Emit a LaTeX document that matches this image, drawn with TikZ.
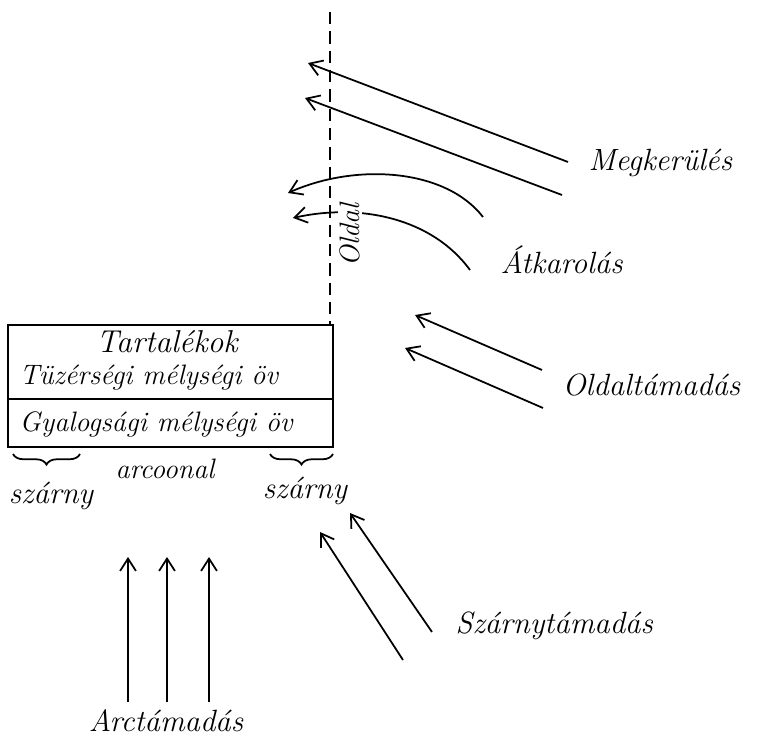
\documentclass[tikz,border=0pt]{standalone}
\usepackage{fontspec}
\usepackage{tikz}
\usetikzlibrary{arrows.meta,decorations.pathreplacing}

\begin{document}
\begin{tikzpicture}[x=0.02cm,y=-0.02cm,line width=1pt,
    >={Straight Barb[length=7pt,width=9pt,line width=1pt]},
    hand/.style={font=\fontsize{17.5}{20}\selectfont\itshape,inner sep=1pt},
    boxtext/.style={font=\fontsize{16}{18}\selectfont\itshape,inner sep=1pt},
    wing/.style={decorate,decoration={brace,mirror,amplitude=6pt}}]
  \useasboundingbox (0,0) rectangle (768,746);
  % front line and side line
  \draw (8,325) rectangle (333,447);
  \draw (8,399) -- (333,399);
  \coordinate (sideTop) at (330,12);
  \coordinate (sideFoot) at (330,325);
  \draw[dash pattern=on 7pt off 4pt] (sideTop) -- (sideFoot);
  \node[boxtext,font=\fontsize{18}{20}\selectfont\itshape] (tartalek) at (167,342) {Tartalékok};
  \node[boxtext,anchor=west] (tuzer) at (17,378) {Tüzérségi mélységi öv};
  \node[boxtext,anchor=west] (gyalog) at (17,424) {Gyalogsági mélységi öv};
  % wings
  \draw[wing] (13,454) -- (80,454);
  \draw[wing] (270,454) -- (333,454);
  \node[boxtext] (arcvonal) at (165,469) {arcoonal};
  \node[hand] (szarnyL) at (51,496) {szárny};
  \node[hand] (szarnyR) at (305,491) {szárny};
  % labels
  \node[hand,anchor=west] (megker) at (586,163) {Megkerülés};
  \node[hand,anchor=west] (atkar) at (498,260) {Átkarolás};
  \node[hand,anchor=west] (oldalt) at (560,385) {Oldaltámadás};
  \node[hand,anchor=west] (szarnyt) at (453,626) {Szárnytámadás};
  \node[hand] (arct) at (166,721) {Arctámadás};
  % Megkerules
  \coordinate (m1) at (568,162); \coordinate (m1t) at (308,63);
  \coordinate (m2) at (562,195); \coordinate (m2t) at (305,98);
  \draw[->] (m1) -- (m1t);
  \draw[->] (m2) -- (m2t);
  % Atkarolas
  \coordinate (a1) at (483,217); \coordinate (a1t) at (288,193);
  \coordinate (a2) at (470,270); \coordinate (a2t) at (293,218);
  \draw[->] (a1) .. controls (445,168) and (355,163) .. (a1t);
  \draw[->] (a2) .. controls (432,218) and (360,203) .. (a2t);
  \node[boxtext,rotate=90,fill=white] (oldal) at (350,235) {Oldal};
  % Oldaltamadas
  \coordinate (o1) at (542,370); \coordinate (o1t) at (415,315);
  \coordinate (o2) at (543,408); \coordinate (o2t) at (405,348);
  \draw[->] (o1) -- (o1t);
  \draw[->] (o2) -- (o2t);
  % Szarnytamadas
  \coordinate (s1) at (403,660); \coordinate (s1t) at (320,532);
  \coordinate (s2) at (432,632); \coordinate (s2t) at (350,513);
  \draw[->] (s1) -- (s1t);
  \draw[->] (s2) -- (s2t);
  % Arctamadas
  \foreach \i/\xx in {1/128,2/167,3/209}{
    \coordinate (f\i) at (\xx,702);
    \coordinate (f\i t) at (\xx,557);
    \draw[->,line width=1.2pt] (f\i) -- (f\i t);
  }
\end{tikzpicture}
\end{document}
